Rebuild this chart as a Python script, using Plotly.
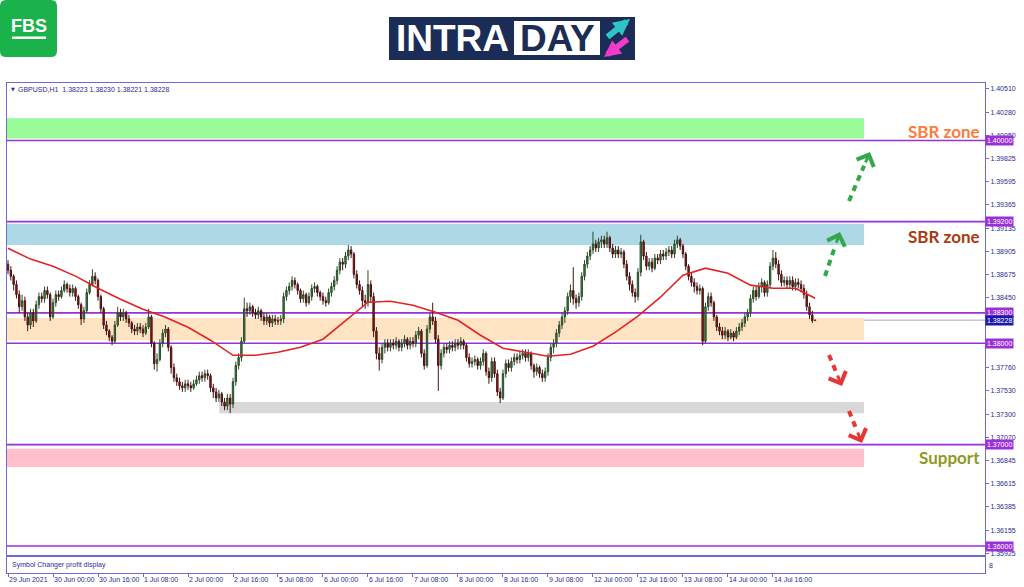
import plotly.graph_objects as go

# GBPUSD H1 candles, bar 0 = 29 Jun 08:00 (weekend hours skipped)
first_open = 1.3878
closes = [
    1.3872, 1.3866, 1.3858, 1.3848, 1.3836, 1.3842, 1.3826, 1.3818, 1.3830, 1.3822,
    1.3838, 1.3846, 1.3844, 1.3852, 1.3848, 1.3826, 1.3840, 1.3848, 1.3846, 1.3852,
    1.3858, 1.3854, 1.3850, 1.3854, 1.3846, 1.3838, 1.3824, 1.3832, 1.3850, 1.3858,
    1.3866, 1.3862, 1.3846, 1.3834, 1.3818, 1.3812, 1.3806, 1.3802, 1.3818, 1.3830,
    1.3826, 1.3830, 1.3824, 1.3820, 1.3814, 1.3812, 1.3816, 1.3814, 1.3810, 1.3816,
    1.3826, 1.3800, 1.3780, 1.3784, 1.3800, 1.3810, 1.3814, 1.3796, 1.3776, 1.3766,
    1.3762, 1.3758, 1.3756, 1.3760, 1.3758, 1.3756, 1.3760, 1.3764, 1.3768, 1.3766,
    1.3770, 1.3768, 1.3756, 1.3752, 1.3746, 1.3750, 1.3742, 1.3738, 1.3746, 1.3740,
    1.3762, 1.3778, 1.3786, 1.3802, 1.3834, 1.3832, 1.3836, 1.3830, 1.3828, 1.3832,
    1.3826, 1.3822, 1.3826, 1.3820, 1.3824, 1.3822, 1.3822, 1.3824, 1.3846, 1.3852,
    1.3856, 1.3862, 1.3858, 1.3852, 1.3844, 1.3848, 1.3840, 1.3846, 1.3854, 1.3856,
    1.3850, 1.3846, 1.3842, 1.3840, 1.3850, 1.3856, 1.3862, 1.3872, 1.3880, 1.3878,
    1.3886, 1.3892, 1.3888, 1.3868, 1.3858, 1.3852, 1.3842, 1.3840, 1.3858, 1.3846,
    1.3812, 1.3790, 1.3784, 1.3796, 1.3800, 1.3796, 1.3800, 1.3798, 1.3802, 1.3796,
    1.3800, 1.3804, 1.3798, 1.3802, 1.3800, 1.3808, 1.3812, 1.3790, 1.3778, 1.3814,
    1.3826, 1.3822, 1.3804, 1.3778, 1.3790, 1.3796, 1.3794, 1.3798, 1.3796, 1.3800,
    1.3798, 1.3802, 1.3798, 1.3786, 1.3780, 1.3782, 1.3784, 1.3778, 1.3782, 1.3790,
    1.3772, 1.3766, 1.3782, 1.3770, 1.3752, 1.3746, 1.3770, 1.3780, 1.3776, 1.3782,
    1.3786, 1.3784, 1.3788, 1.3790, 1.3786, 1.3790, 1.3778, 1.3772, 1.3776, 1.3770,
    1.3766, 1.3772, 1.3786, 1.3796, 1.3800, 1.3810, 1.3818, 1.3826, 1.3832, 1.3846,
    1.3852, 1.3844, 1.3840, 1.3846, 1.3866, 1.3878, 1.3886, 1.3892, 1.3898, 1.3894,
    1.3900, 1.3902, 1.3898, 1.3904, 1.3894, 1.3888, 1.3892, 1.3888, 1.3890, 1.3878,
    1.3866, 1.3858, 1.3850, 1.3846, 1.3870, 1.3900, 1.3886, 1.3876, 1.3880, 1.3874,
    1.3884, 1.3882, 1.3888, 1.3886, 1.3890, 1.3892, 1.3888, 1.3898, 1.3902, 1.3896,
    1.3888, 1.3876, 1.3866, 1.3860, 1.3856, 1.3852, 1.3854, 1.3802, 1.3836, 1.3846,
    1.3840, 1.3826, 1.3816, 1.3812, 1.3808, 1.3812, 1.3806, 1.3810, 1.3806, 1.3812,
    1.3816, 1.3820, 1.3826, 1.3830, 1.3844, 1.3852, 1.3846, 1.3856, 1.3860, 1.3850,
    1.3858, 1.3876, 1.3884, 1.3878, 1.3868, 1.3860, 1.3862, 1.3858, 1.3862, 1.3856,
    1.3860, 1.3858, 1.3854, 1.3848, 1.3836, 1.3828, 1.38223, 1.38228,
]
highs = [
    1.3882, 1.3876, 1.3868, 1.3862, 1.3852, 1.3848, 1.3846, 1.3830, 1.3834, 1.3834,
    1.3842, 1.3850, 1.3850, 1.3856, 1.3856, 1.3850, 1.3844, 1.3852, 1.3852, 1.3856,
    1.3862, 1.3860, 1.3858, 1.3858, 1.3856, 1.3848, 1.3840, 1.3836, 1.3854, 1.3862,
    1.3873, 1.3870, 1.3864, 1.3848, 1.3836, 1.3822, 1.3814, 1.3808, 1.3822, 1.3836,
    1.3834, 1.3834, 1.3832, 1.3828, 1.3822, 1.3818, 1.3820, 1.3820, 1.3818, 1.3820,
    1.3834, 1.3828, 1.3802, 1.3790, 1.3804, 1.3814, 1.3818, 1.3816, 1.3798, 1.3780,
    1.3770, 1.3766, 1.3762, 1.3764, 1.3764, 1.3762, 1.3764, 1.3768, 1.3772, 1.3772,
    1.3774, 1.3774, 1.3770, 1.3760, 1.3756, 1.3754, 1.3752, 1.3746, 1.3750, 1.3750,
    1.3766, 1.3782, 1.3790, 1.3806, 1.3845, 1.3840, 1.3840, 1.3838, 1.3834, 1.3836,
    1.3834, 1.3830, 1.3830, 1.3828, 1.3828, 1.3828, 1.3826, 1.3828, 1.3850, 1.3856,
    1.3860, 1.3866, 1.3865, 1.3860, 1.3854, 1.3852, 1.3850, 1.3850, 1.3858, 1.3860,
    1.3858, 1.3852, 1.3850, 1.3846, 1.3854, 1.3860, 1.3866, 1.3876, 1.3884, 1.3884,
    1.3890, 1.3897, 1.3896, 1.3890, 1.3872, 1.3862, 1.3856, 1.3848, 1.3872, 1.3862,
    1.3850, 1.3816, 1.3796, 1.3800, 1.3804, 1.3804, 1.3804, 1.3804, 1.3806, 1.3804,
    1.3804, 1.3808, 1.3806, 1.3806, 1.3806, 1.3812, 1.3816, 1.3814, 1.3794, 1.3818,
    1.3830, 1.3840, 1.3826, 1.3808, 1.3794, 1.3800, 1.3800, 1.3802, 1.3802, 1.3804,
    1.3804, 1.3806, 1.3804, 1.3800, 1.3790, 1.3786, 1.3788, 1.3786, 1.3786, 1.3794,
    1.3792, 1.3776, 1.3786, 1.3786, 1.3774, 1.3756, 1.3774, 1.3784, 1.3784, 1.3786,
    1.3790, 1.3790, 1.3792, 1.3794, 1.3794, 1.3794, 1.3792, 1.3780, 1.3780, 1.3778,
    1.3774, 1.3776, 1.3790, 1.3800, 1.3804, 1.3814, 1.3822, 1.3830, 1.3836, 1.3850,
    1.3858, 1.3875, 1.3848, 1.3850, 1.3870, 1.3882, 1.3890, 1.3896, 1.3910, 1.3902,
    1.3904, 1.3906, 1.3906, 1.3910, 1.3906, 1.3898, 1.3896, 1.3896, 1.3894, 1.3892,
    1.3882, 1.3870, 1.3862, 1.3854, 1.3874, 1.3907, 1.3902, 1.3890, 1.3884, 1.3884,
    1.3888, 1.3888, 1.3892, 1.3892, 1.3894, 1.3896, 1.3896, 1.3902, 1.3906, 1.3904,
    1.3898, 1.3890, 1.3878, 1.3870, 1.3864, 1.3860, 1.3858, 1.3856, 1.3840, 1.3850,
    1.3850, 1.3842, 1.3828, 1.3820, 1.3816, 1.3816, 1.3814, 1.3814, 1.3812, 1.3816,
    1.3820, 1.3824, 1.3830, 1.3834, 1.3848, 1.3856, 1.3856, 1.3860, 1.3864, 1.3862,
    1.3862, 1.3880, 1.3892, 1.3890, 1.3882, 1.3872, 1.3866, 1.3866, 1.3866, 1.3866,
    1.3864, 1.3864, 1.3862, 1.3858, 1.3852, 1.3840, 1.3832, 1.38230,
]
lows = [
    1.3868, 1.3862, 1.3852, 1.3844, 1.3830, 1.3832, 1.3822, 1.3812, 1.3814, 1.3816,
    1.3820, 1.3834, 1.3840, 1.3840, 1.3844, 1.3822, 1.3824, 1.3836, 1.3842, 1.3844,
    1.3850, 1.3850, 1.3846, 1.3846, 1.3842, 1.3834, 1.3818, 1.3820, 1.3830, 1.3848,
    1.3856, 1.3858, 1.3842, 1.3830, 1.3814, 1.3808, 1.3802, 1.3798, 1.3800, 1.3816,
    1.3822, 1.3822, 1.3820, 1.3816, 1.3810, 1.3808, 1.3808, 1.3810, 1.3806, 1.3808,
    1.3814, 1.3796, 1.3774, 1.3772, 1.3782, 1.3796, 1.3806, 1.3792, 1.3770, 1.3762,
    1.3758, 1.3754, 1.3752, 1.3752, 1.3754, 1.3752, 1.3754, 1.3758, 1.3760, 1.3762,
    1.3762, 1.3764, 1.3752, 1.3746, 1.3742, 1.3742, 1.3738, 1.3734, 1.3734, 1.3731,
    1.3736, 1.3758, 1.3774, 1.3782, 1.3800, 1.3826, 1.3828, 1.3826, 1.3824, 1.3824,
    1.3822, 1.3818, 1.3818, 1.3816, 1.3816, 1.3818, 1.3818, 1.3818, 1.3820, 1.3842,
    1.3848, 1.3852, 1.3854, 1.3848, 1.3840, 1.3840, 1.3836, 1.3838, 1.3842, 1.3850,
    1.3846, 1.3842, 1.3838, 1.3836, 1.3838, 1.3846, 1.3852, 1.3858, 1.3868, 1.3872,
    1.3874, 1.3882, 1.3884, 1.3864, 1.3854, 1.3848, 1.3836, 1.3834, 1.3836, 1.3840,
    1.3806, 1.3784, 1.3773, 1.3780, 1.3790, 1.3792, 1.3792, 1.3794, 1.3794, 1.3792,
    1.3792, 1.3796, 1.3794, 1.3794, 1.3796, 1.3796, 1.3804, 1.3786, 1.3774, 1.3776,
    1.3810, 1.3818, 1.3800, 1.3753, 1.3774, 1.3786, 1.3790, 1.3790, 1.3792, 1.3792,
    1.3794, 1.3794, 1.3794, 1.3782, 1.3776, 1.3776, 1.3778, 1.3774, 1.3774, 1.3778,
    1.3768, 1.3760, 1.3762, 1.3766, 1.3748, 1.3741, 1.3744, 1.3766, 1.3772, 1.3772,
    1.3778, 1.3780, 1.3780, 1.3784, 1.3782, 1.3782, 1.3774, 1.3766, 1.3768, 1.3766,
    1.3762, 1.3762, 1.3768, 1.3782, 1.3790, 1.3796, 1.3806, 1.3814, 1.3820, 1.3828,
    1.3840, 1.3838, 1.3834, 1.3836, 1.3842, 1.3862, 1.3874, 1.3882, 1.3888, 1.3890,
    1.3890, 1.3894, 1.3894, 1.3894, 1.3890, 1.3884, 1.3884, 1.3884, 1.3884, 1.3874,
    1.3862, 1.3852, 1.3846, 1.3840, 1.3842, 1.3866, 1.3882, 1.3872, 1.3872, 1.3870,
    1.3872, 1.3878, 1.3878, 1.3882, 1.3882, 1.3886, 1.3884, 1.3884, 1.3894, 1.3892,
    1.3884, 1.3872, 1.3862, 1.3856, 1.3850, 1.3848, 1.3848, 1.3798, 1.3800, 1.3832,
    1.3836, 1.3822, 1.3812, 1.3808, 1.3804, 1.3804, 1.3802, 1.3804, 1.3802, 1.3804,
    1.3808, 1.3812, 1.3816, 1.3822, 1.3826, 1.3840, 1.3842, 1.3844, 1.3850, 1.3846,
    1.3846, 1.3854, 1.3872, 1.3874, 1.3862, 1.3856, 1.3856, 1.3854, 1.3854, 1.3852,
    1.3852, 1.3854, 1.3850, 1.3844, 1.3832, 1.3824, 1.3820, 1.38221,
]

# red moving average, read every 8 bars
ma_bars = [0, 8, 16, 24, 32, 40, 48, 56, 64, 72, 80, 88, 96, 104, 112, 120, 128, 136,
           144, 152, 160, 168, 176, 184, 192, 200, 208, 216, 224, 232, 240, 248, 256,
           264, 272, 280, 287]
ma_vals = [1.38938, 1.38830, 1.38760, 1.38662, 1.38543, 1.38435, 1.38336, 1.38257,
           1.38158, 1.38030, 1.37881, 1.37881, 1.37911, 1.37960, 1.38040, 1.38227,
           1.38405, 1.38415, 1.38375, 1.38306, 1.38227, 1.38079, 1.37951, 1.37911,
           1.37872, 1.37891, 1.37970, 1.38109, 1.38267, 1.38454, 1.38672, 1.38741,
           1.38691, 1.38573, 1.38543, 1.38543, 1.38444]

levels = [1.40000, 1.39200, 1.38300, 1.38000, 1.37000, 1.36000]
last_price = 1.38228

zone_top = [1.4022, 1.3918, 1.3825, 1.3742, 1.3696]
zone_bottom = [1.4002, 1.3897, 1.3803, 1.3731, 1.3678]

y_ticks = [1.40510, 1.40280, 1.40050, 1.39825, 1.39595, 1.39365, 1.39135, 1.38905,
           1.38675, 1.38450, 1.38220, 1.37990, 1.37760, 1.37530, 1.37300, 1.37070,
           1.36845, 1.36615, 1.36385, 1.36155, 1.35925]
x_ticks = [0, 16, 32, 48, 64, 80, 96, 112, 128, 144, 160, 176, 192, 208, 224, 240, 256, 272]
x_labels = ["29 Jun 2021", "30 Jun 00:00", "30 Jun 16:00", "1 Jul 08:00", "2 Jul 00:00",
            "2 Jul 16:00", "5 Jul 08:00", "6 Jul 00:00", "6 Jul 16:00", "7 Jul 08:00",
            "8 Jul 00:00", "8 Jul 16:00", "9 Jul 08:00", "12 Jul 00:00", "12 Jul 16:00",
            "13 Jul 08:00", "14 Jul 00:00", "14 Jul 16:00"]

opens = [first_open] + closes[:-1]
bars = list(range(len(closes)))

W, H = 1024, 587


def px(x):
    return x / W


def py(y):
    return 1 - y / H


FRAME = "#6b6bd8"
TXT = "#2b2b8f"
PURPLE = "#9b30d6"
SMALL = dict(family="Liberation Sans, Arial", size=7, color=TXT)

fig = go.Figure()
fig.add_trace(
    go.Candlestick(
        x=bars, open=opens, high=highs, low=lows, close=closes,
        increasing=dict(fillcolor="#3a8a3a", line=dict(color="#2a4a2a", width=1)),
        decreasing=dict(fillcolor="#8b1c1c", line=dict(color="#4a1010", width=1)),
        showlegend=False, hoverinfo="skip",
    )
)
fig.add_trace(
    go.Scatter(x=ma_bars, y=ma_vals, mode="lines",
               line=dict(color="#e32222", width=1.6), showlegend=False, hoverinfo="skip")
)
fig.add_trace(go.Scatter(x=[], y=[], xaxis="x2", yaxis="y2", showlegend=False))

shapes = []
zone_colors = ["#98fb98", "#add8e6", "#ffe4c4", "#d8d8d8", "#ffc0cb"]
zone_left = [-0.4, -0.4, -0.4, 75.1, -0.4]
for top, bot, col, x0 in zip(zone_top, zone_bottom, zone_colors, zone_left):
    shapes.append(dict(type="rect", xref="x", yref="y", x0=x0, x1=304.4, y0=bot, y1=top,
                       fillcolor=col, line=dict(width=0), layer="below"))
shapes.append(dict(type="line", xref="x domain", yref="y", x0=0, x1=1, y0=last_price,
                   y1=last_price, line=dict(color="#a8a8a8", width=1), layer="below"))
for lv in levels:
    shapes.append(dict(type="line", xref="x domain", yref="y", x0=0, x1=1, y0=lv, y1=lv,
                       line=dict(color=PURPLE, width=1.6), layer="below"))


def label(x, y, text, font, xanchor="left", **kw):
    return dict(xref="paper", yref="paper", x=px(x), y=py(y), text=text, showarrow=False,
                xanchor=xanchor, yanchor="middle", font=font, **kw)


annotations = []
# price tags on the axis
tag_font = dict(family="Liberation Sans, Arial", size=7, color="white")
for lv in levels:
    annotations.append(dict(xref="paper", yref="y", x=px(985), y=lv, xanchor="left",
                            yanchor="middle", text=f"{lv:.5f}", showarrow=False,
                            bgcolor=PURPLE, borderpad=1, font=tag_font))
annotations.append(dict(xref="paper", yref="y", x=px(985), y=last_price, xanchor="left",
                        yanchor="middle", text=f"{last_price:.5f}", showarrow=False,
                        bgcolor="#1a1aa8", borderpad=1, font=tag_font))

# dashed arrows (tail -> tip, pixels)
arrows = [((825, 276), (840, 232), "#33a84a"), ((849, 201), (870, 152), "#33a84a"),
          ((829, 355), (842, 386), "#e83535"), ((849, 411), (862, 443), "#e83535")]
STEM = 13
for (x0, y0), (x1, y1), col in arrows:
    dx, dy = x1 - x0, y1 - y0
    n = (dx * dx + dy * dy) ** 0.5
    ux, uy = dx / n, dy / n
    shapes.append(dict(type="line", xref="paper", yref="paper", x0=px(x0), y0=py(y0),
                       x1=px(x1 - ux * (STEM + 2)), y1=py(y1 - uy * (STEM + 2)),
                       line=dict(color=col, width=4, dash="6px,5px")))
    annotations.append(dict(xref="paper", yref="paper", x=px(x1), y=py(y1), text="",
                            showarrow=True, ax=-ux * STEM, ay=-uy * STEM, arrowhead=4,
                            arrowsize=1.2, arrowwidth=3, arrowcolor=col))

for txt, y, col in [("SBR zone", 131, "#fa7d3c"), ("SBR zone", 236, "#a83a12"),
                    ("Support", 457, "#8e9a1e")]:
    annotations.append(label(982, y, f"<b>{txt}</b>",
                             dict(family="Lato", size=17, color=col), xanchor="right"))

# chart header and sub window
annotations.append(label(9, 89, "▼", dict(family="DejaVu Sans", size=5, color=TXT)))
annotations.append(label(16, 89, "GBPUSD,H1  1.38223 1.38230 1.38221 1.38228", SMALL))
annotations.append(label(10, 565, "Symbol Changer profit display", SMALL))
annotations.append(label(987, 565, "8", SMALL))

# FBS logo
r = 6
shapes.append(dict(type="path", xref="paper", yref="paper", line=dict(width=0),
                   fillcolor="#19b24b",
                   path=(f"M {px(r)},{py(0)} L {px(57 - r)},{py(0)} Q {px(57)},{py(0)} {px(57)},{py(r)} "
                         f"L {px(57)},{py(57 - r)} Q {px(57)},{py(57)} {px(57 - r)},{py(57)} "
                         f"L {px(r)},{py(57)} Q {px(0)},{py(57)} {px(0)},{py(57 - r)} "
                         f"L {px(0)},{py(r)} Q {px(0)},{py(0)} {px(r)},{py(0)} Z")))
shapes.append(dict(type="rect", xref="paper", yref="paper", x0=px(12), x1=px(46),
                   y0=py(39), y1=py(36.5), fillcolor="white", line=dict(width=0)))
annotations.append(label(29, 26, "<b>FBS</b>",
                         dict(family="Liberation Sans, Arial", size=18, color="white"),
                         xanchor="center"))

# INTRADAY logo
shapes.append(dict(type="rect", xref="paper", yref="paper", x0=px(389), x1=px(635),
                   y0=py(60), y1=py(17), fillcolor="#1b2d56", line=dict(width=0)))
shapes.append(dict(type="rect", xref="paper", yref="paper", x0=px(514), x1=px(600),
                   y0=py(55), y1=py(21), fillcolor="white", line=dict(width=0)))
annotations.append(label(394, 39, "<b>INTRA</b>",
                         dict(family="Liberation Sans, Arial", size=37, color="white")))
annotations.append(label(557, 39, "<b>DAY</b>",
                         dict(family="Liberation Sans, Arial", size=37, color="#1b2d56"),
                         xanchor="center"))
annotations.append(dict(xref="paper", yref="paper", x=px(630), y=py(19), text="",
                        showarrow=True, ax=-24, ay=19, arrowhead=2, arrowsize=0.55,
                        arrowwidth=6, arrowcolor="#2ec4c8"))
annotations.append(dict(xref="paper", yref="paper", x=px(604), y=py(57), text="",
                        showarrow=True, ax=25, ay=-19, arrowhead=2, arrowsize=0.55,
                        arrowwidth=6, arrowcolor="#f03cc8"))

# tick labels hidden behind the price tags in the reference
y_text = ["" if v in (1.38220, 1.37990) else f"{v:.5f}" for v in y_ticks]

fig.update_layout(
    width=W, height=H,
    margin=dict(l=0, r=0, t=0, b=0),
    paper_bgcolor="white", plot_bgcolor="white",
    showlegend=False,
    shapes=shapes, annotations=annotations,
    xaxis=dict(domain=[px(7), px(985)], range=[-0.36, 347.4], showgrid=False,
               zeroline=False, showticklabels=False, showline=True, mirror=True,
               linecolor=FRAME, linewidth=1, rangeslider=dict(visible=False),
               tickvals=x_ticks, automargin=False),
    yaxis=dict(domain=[py(555), py(83)], range=[1.359112, 1.405672], side="right",
               showgrid=False, zeroline=False, showline=True, mirror=True,
               linecolor=FRAME, linewidth=1, tickmode="array", tickvals=y_ticks,
               ticktext=y_text, ticks="outside", ticklen=3, tickcolor=FRAME,
               tickfont=SMALL, automargin=False),
    xaxis2=dict(domain=[px(7), px(985)], anchor="y2", matches="x", showgrid=False,
                zeroline=False, showline=True, mirror=True, linecolor=FRAME, linewidth=1,
                tickmode="array", tickvals=x_ticks, ticktext=x_labels, ticks="outside",
                ticklen=3, tickcolor=FRAME, tickfont=SMALL, tickangle=0,
                ticklabelposition="outside right", automargin=False),
    yaxis2=dict(domain=[py(573), py(557)], anchor="x2", range=[0, 1], showgrid=False,
                zeroline=False, showline=True, mirror=True, linecolor=FRAME, linewidth=1,
                showticklabels=False, automargin=False),
)

fig.write_html("out.html", config={"displayModeBar": False},
               post_script="document.body.style.margin='0';")
